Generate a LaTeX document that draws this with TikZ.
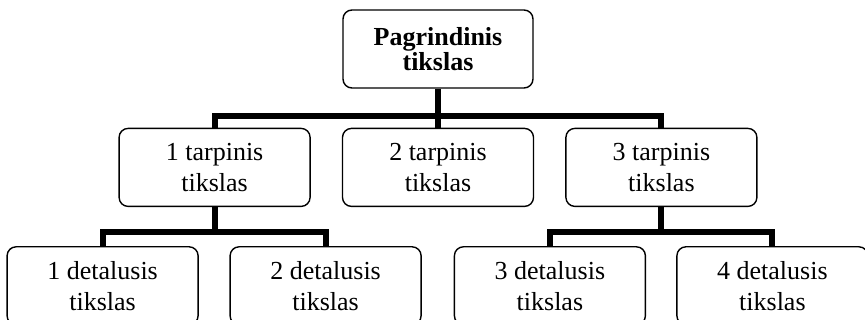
\documentclass[tikz,border=0pt]{standalone}
\usepackage{fontspec}
\setmainfont{Liberation Serif}
\usetikzlibrary{positioning}

\tikzset{
  goal/.style={draw, rectangle, rounded corners=9pt, line width=1.4pt,
    minimum width=191pt, minimum height=78pt, align=center, inner sep=2pt,
    font=\fontsize{26}{31}\selectfont},
  link/.style={line width=6pt}
}

\begin{document}
\begin{tikzpicture}[x=1pt, y=1pt]
\useasboundingbox (0,0) rectangle (865,-320);

% Main goal
\node[goal, minimum width=190pt, font=\fontsize{26}{25}\selectfont\bfseries] (main) at (438,-49) {Pagrindinis\\tikslas};

% Intermediate goals
\node[goal, below=39pt of main] (mid2) {2 tarpinis\\tikslas};
\node[goal, left=31pt of mid2] (mid1) {1 tarpinis\\tikslas};
\node[goal, right=31pt of mid2] (mid3) {3 tarpinis\\tikslas};

% Detailed goals
\node[goal, below=39pt of mid1, xshift=-112pt] (det1) {1 detalusis\\tikslas};
\node[goal, below=39pt of mid1, xshift=111pt] (det2) {2 detalusis\\tikslas};
\node[goal, below=39pt of mid3, xshift=-111.5pt] (det3) {3 detalusis\\tikslas};
\node[goal, below=39pt of mid3, xshift=111pt] (det4) {4 detalusis\\tikslas};

% Bus coordinates
\coordinate (busA) at ([yshift=-27pt]main.south);
\coordinate (busB) at ([yshift=-25pt]mid1.south);
\coordinate (busC) at ([yshift=-25pt]mid3.south);

% Connectors
\draw[link] (main.south) -- (busA);
\draw[link] (busA) -| (mid1.north);
\draw[link] (busA) -| (mid3.north);
\draw[link] (busA) -- (mid2.north);

\draw[link] (mid1.south) -- (busB);
\draw[link] (busB) -| (det1.north);
\draw[link] (busB) -| (det2.north);

\draw[link] (mid3.south) -- (busC);
\draw[link] (busC) -| (det3.north);
\draw[link] (busC) -| (det4.north);

\end{tikzpicture}
\end{document}
